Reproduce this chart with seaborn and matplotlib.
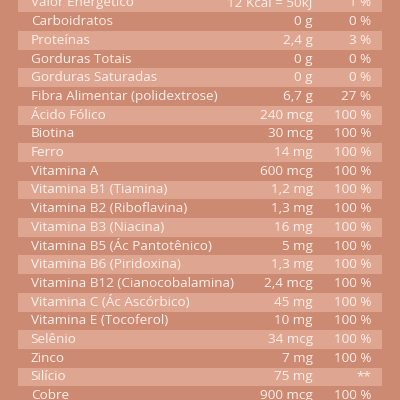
import numpy as np
import matplotlib
matplotlib.use("Agg")
import matplotlib.pyplot as plt
from matplotlib.colors import ListedColormap
import seaborn as sns

nutrients = ["Valor Energético", "Carboidratos", "Proteínas", "Gorduras Totais",
             "Gorduras Saturadas", "Fibra Alimentar (polidextrose)", "Ácido Fólico",
             "Biotina", "Ferro", "Vitamina A", "Vitamina B1 (Tiamina)",
             "Vitamina B2 (Riboflavina)", "Vitamina B3 (Niacina)",
             "Vitamina B5 (Ác Pantotênico)", "Vitamina B6 (Piridoxina)",
             "Vitamina B12 (Cianocobalamina)", "Vitamina C (Ác Ascórbico)",
             "Vitamina E (Tocoferol)", "Selênio", "Zinco", "Silício", "Cobre"]
amounts = ["12 Kcal = 50kJ", "0 g", "2,4 g", "0 g", "0 g", "6,7 g", "240 mcg",
           "30 mcg", "14 mg", "600 mcg", "1,2 mg", "1,3 mg", "16 mg", "5 mg",
           "1,3 mg", "2,4 mcg", "45 mg", "10 mg", "34 mcg", "7 mg", "75 mg", "900 mcg"]
daily_pct = ["1 %", "0 %", "3 %", "0 %", "0 %", "27 %", "100 %", "100 %", "100 %",
             "100 %", "100 %", "100 %", "100 %", "100 %", "100 %", "100 %", "100 %",
             "100 %", "100 %", "100 %", "**", "100 %"]

dark = "#cd8a73"
light = "#dea691"
stripes = np.array([[i % 2] for i in range(len(nutrients))])

fig = plt.figure(figsize=(4, 4), dpi=100)
fig.patch.set_facecolor(dark)
ax = fig.add_axes([0.045, 0, 0.91, 1])
sns.heatmap(stripes, cmap=ListedColormap([light, dark]), cbar=False,
            xticklabels=False, yticklabels=False, ax=ax)
ax.set_ylim(21.73, 0.34)
ax.set_xlim(0, 1)

txt = dict(color="#fbeee8", fontsize=9.7, family="Open Sans", va="center")
for i, (n, a, p) in enumerate(zip(nutrients, amounts, daily_pct)):
    y = i + 0.5
    ax.text(0.035, y, n, ha="left", **txt)
    ax.text(0.81, y, a, ha="right", **txt)
    ax.text(0.97, y, p, ha="right", **txt)

fig.savefig("out.png", dpi=100, facecolor=fig.get_facecolor())
